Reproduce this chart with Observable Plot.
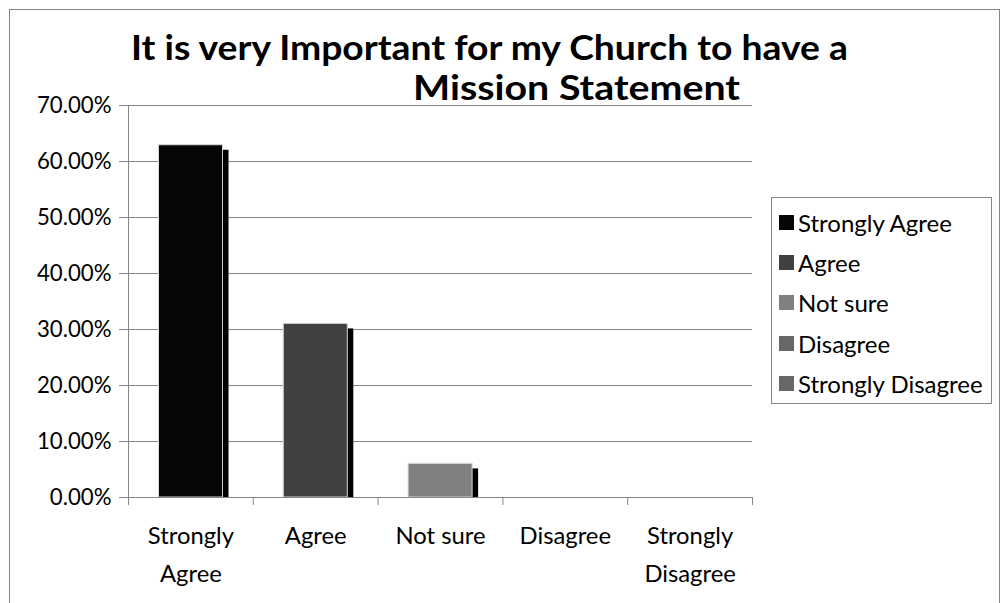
<!DOCTYPE html>
<html>
<head>
<meta charset="utf-8">
<script src="https://cdn.jsdelivr.net/npm/d3@7"></script>
<script src="https://cdn.jsdelivr.net/npm/@observablehq/plot@0.6"></script>
<style>
  html, body { margin: 0; padding: 0; background: #fff; }
  #wrap { position: relative; width: 1002px; height: 603px; overflow: hidden; font-family: Lato, "Open Sans", sans-serif; }
  #wrap > svg.chart { position: absolute; left: 0; top: 0; }
  #overlay { position: absolute; left: 0; top: 0; pointer-events: none; }
  #legendBox { position: absolute; left: 771px; top: 197px; width: 219px; height: 205px; border: 1px solid #868686; box-sizing: content-box; background: #fff; }
  #legendBox > div { margin: 0 !important; padding: 4px 0 0 7px !important; font-family: Lato, "Open Sans", sans-serif !important; font-size: 24px !important; color: #000 !important; columns: 1 !important; }
  #legendBox > div > div { display: flex !important; align-items: center !important; height: 40.4px !important; padding: 0 !important; margin: 0 !important; font-size: 24px !important; }
  #legendBox > div > div > svg { margin-right: 4px !important; flex-shrink: 0; }
  #legendBox > div > div > div { overflow: visible !important; white-space: nowrap; font-size: 24px !important; }
</style>
</head>
<body>
<div id="wrap"></div>
<script>
// ---- data ----
const categories = ["Strongly Agree", "Agree", "Not sure", "Disagree", "Strongly Disagree"];
const values = [0.629, 0.31, 0.06, 0, 0];
const colors = ["#060606", "#404040", "#808080", "#686868", "#686868"];
const xLabels = ["Strongly\nAgree", "Agree", "Not sure", "Disagree", "Strongly\nDisagree"];
const yTicks = [0, 0.1, 0.2, 0.3, 0.4, 0.5, 0.6, 0.7];
const titleLines = ["It is very Important for my Church to have a", "Mission Statement"];

const data = categories.map((c, i) => ({category: c, i, value: values[i]}));
const grid = "#868686";

const chart = Plot.plot({
  width: 1002,
  height: 603,
  marginLeft: 128,
  marginRight: 250,
  marginTop: 105,
  marginBottom: 106,
  style: {fontFamily: "Lato, 'Open Sans', sans-serif", fontSize: "22px", color: "#000", background: "transparent", overflow: "visible"},
  x: {domain: [0, categories.length], label: null},
  y: {domain: [0, 0.7], label: null},
  color: {domain: categories, range: colors},
  marks: [
    Plot.gridY(yTicks, {stroke: grid, strokeOpacity: 1}),
    Plot.axisY({ticks: yTicks, tickFormat: d => (d * 100).toFixed(2) + "%", tickSize: 9, tickPadding: 8, stroke: grid, fill: "#000", fontSize: 22.2, label: null}),
    Plot.axisX({ticks: d3.range(categories.length + 1), tickFormat: () => "", tickSize: 8, stroke: grid, label: null}),
    Plot.rectY(data.filter(d => d.value > 0), {x1: "i", x2: d => d.i + 1, y: "value", fill: "#000", insetLeft: 30.5, insetRight: 30.3, insetTop: 5, dx: 6}),
    Plot.rectY(data, {x1: "i", x2: d => d.i + 1, y: "value", fill: "category", stroke: "#d4d4d4", strokeWidth: 1, insetLeft: 30.5, insetRight: 30.3}),
    Plot.ruleX([0], {stroke: grid}),
    Plot.ruleY([0], {stroke: grid}),
    Plot.text(data, {x: d => d.i + 0.5, text: d => xLabels[d.i], frameAnchor: "bottom", lineAnchor: "top", dy: 19, fontSize: 23.8, lineHeight: 1.6, fill: "#000"})
  ]
});
chart.classList.add("chart");
const wrap = document.getElementById("wrap");
wrap.appendChild(chart);

// overlay: chart border and title
const ov = d3.select(wrap).append("svg").attr("id", "overlay").attr("width", 1002).attr("height", 603);
ov.append("rect").attr("x", 9.5).attr("y", 9.5).attr("width", 990).attr("height", 700)
  .attr("fill", "none").attr("stroke", grid).attr("stroke-width", 1);
const titleSpecs = [
  {x: 131, y: 60, w: 717},
  {x: 413, y: 100, w: 327}
];
titleLines.forEach((t, k) => {
  ov.append("text")
    .attr("x", titleSpecs[k].x).attr("y", titleSpecs[k].y)
    .attr("textLength", titleSpecs[k].w).attr("lengthAdjust", "spacingAndGlyphs")
    .attr("font-family", "Lato, 'Open Sans', sans-serif").attr("font-weight", 700)
    .attr("font-size", 34).attr("fill", "#000")
    .text(t);
});

// legend
const box = document.createElement("div");
box.id = "legendBox";
const lg = Plot.legend({color: {domain: categories, range: colors}, legend: "swatches", columns: 1, swatchSize: 15, className: "lg"});
box.appendChild(lg);
wrap.appendChild(box);
</script>
</body>
</html>
